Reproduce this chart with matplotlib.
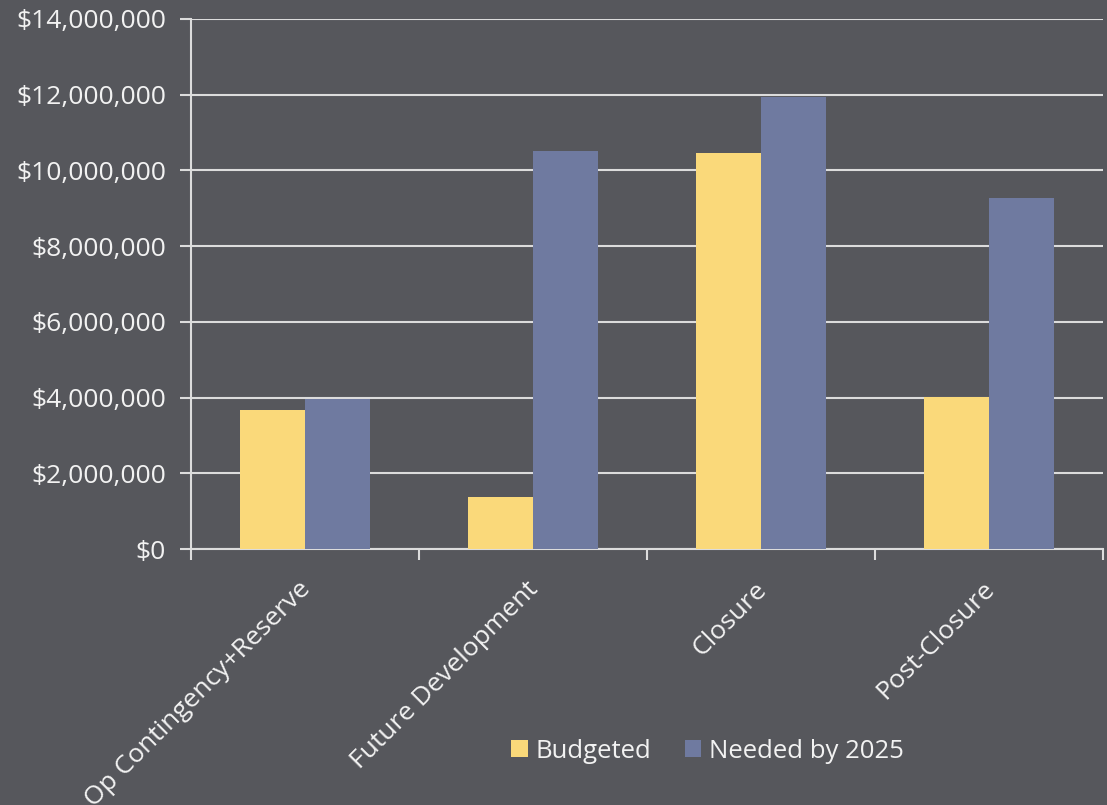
import matplotlib
matplotlib.use('Agg')
import matplotlib.pyplot as plt
import matplotlib.transforms as mtransforms
import numpy as np
from matplotlib import ticker

plt.rcParams['font.family'] = ['Open Sans', 'DejaVu Sans']

categories = ['Op Contingency+Reserve', 'Future Development', 'Closure', 'Post-Closure']
budgeted = [3.67e6, 1.37e6, 10.46e6, 4.01e6]
needed = [3.96e6, 10.51e6, 11.94e6, 9.27e6]

bg = '#56575c'
fg = '#f2f2f2'
grid_c = '#dcdcdc'
c_budget = '#fad97a'
c_need = '#6f7aa0'

f = plt.figure(figsize=(11.07, 8.05), dpi=100, facecolor=bg)
ax = f.add_axes([0.1725, 0.318, 0.824, 0.6584])
ax.set_facecolor(bg)

x = np.arange(len(categories))
w = 0.285
ax.bar(x - w/2, budgeted, w, color=c_budget, label='Budgeted', zorder=3)
ax.bar(x + w/2, needed, w, color=c_need, label='Needed by 2025', zorder=3)

ax.set_xlim(-0.5, len(categories) - 0.5)
ax.set_ylim(0, 14e6)
ax.set_yticks(np.arange(0, 14.1e6, 2e6))
ax.yaxis.set_major_formatter(ticker.FuncFormatter(lambda v, p: '${:,.0f}'.format(v)))
ax.grid(axis='y', color=grid_c, lw=1.5, zorder=0)

ax.set_xticks(x)
ax.set_xticklabels(categories, rotation=45, ha='right', rotation_mode='anchor')
ax.set_xticks(np.arange(-0.5, len(categories)), minor=True)
ax.tick_params(axis='x', which='major', length=0, pad=20, labelsize=19, colors=fg)
ax.tick_params(axis='x', which='minor', length=8, width=1.5, color=grid_c)
ax.tick_params(axis='y', length=8, width=1.5, color=grid_c, labelsize=19, colors=fg, pad=10)

# nudge the slanted category labels a little left
shift = mtransforms.ScaledTranslation(-7/100, 0, f.dpi_scale_trans)
for lab in ax.get_xticklabels():
    lab.set_transform(lab.get_transform() + shift)

for s in ['top', 'right']:
    ax.spines[s].set_visible(False)
for s in ['left', 'bottom']:
    ax.spines[s].set_color(grid_c)
    ax.spines[s].set_linewidth(1.5)

leg = f.legend(loc='center', bbox_to_anchor=(0.639, 0.067), ncol=2, frameon=False,
               fontsize=18.5, handlelength=0.65, handleheight=0.65, handletextpad=0.3,
               columnspacing=1.3)
for t in leg.get_texts():
    t.set_color(fg)

f.savefig('out.png', dpi=100, facecolor=bg)
